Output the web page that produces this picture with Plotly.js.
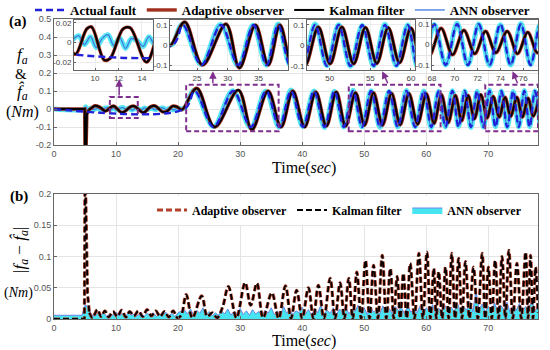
<!DOCTYPE html>
<html><head><meta charset="utf-8">
<script src="https://cdn.plot.ly/plotly-3.0.1.min.js"></script>
<style>body{margin:0;background:#fff}#chart{width:550px;height:350px}</style>
</head><body><div id="chart"></div><script>
// ---------- DATA ----------
// (a) Actual fault: zero, then chirp-like sinusoid; listed as extrema (time, value)
const actualT = [0, 21.0, 22.7, 25.7, 28.9, 31.7, 34.2, 36.3, 38.2, 40.1, 41.9, 43.6, 45.2, 46.7, 48.2, 49.65, 51.1, 52.55, 54.0, 55.4, 56.8, 58.2, 59.6, 60.8, 62.0, 63.1, 64.2, 65.2, 66.2, 67.2, 68.2, 69.2, 70.2, 71.15, 72.1, 73.05, 74.0, 74.9, 75.8, 76.65, 77.5, 78.35];
const actualV = [0, 0, 0.1, -0.1, 0.1, -0.1, 0.1, -0.1, 0.1, -0.1, 0.1, -0.1, 0.1, -0.1, 0.1, -0.1, 0.1, -0.1, 0.1, -0.1, 0.1, -0.1, 0.1, -0.1, 0.1, -0.1, 0.1, -0.1, 0.1, -0.1, 0.1, -0.1, 0.1, -0.1, 0.1, -0.1, 0.1, -0.1, 0.1, -0.1, 0.1, -0.1];

// (a) Kalman filter: start-up spike, then oscillation
const kalmanSpikeT = [0, 4.95, 5.0, 5.12, 5.3, 5.6];
const kalmanSpikeV = [0, 0, -0.3, -0.3, -0.03, -0.005];
const kalmanT = [5.6, 6.0, 6.6, 7.3, 8.3, 9.3, 9.7, 10.8, 11.3, 12.4, 13.0, 14.4, 15.6, 16.3, 17.5, 18.2, 19.1, 19.8, 20.6, 23.0, 25.9, 29.7, 31.9, 34.5, 36.6, 38.5, 40.4, 42.2, 43.9, 45.5, 47.0, 48.6, 50.05, 51.5, 52.95, 54.4, 55.8, 57.2, 58.6, 60.0, 61.25, 62.45, 63.55, 64.7, 65.7, 66.75, 67.75, 68.8, 69.8, 70.8, 71.75, 72.7, 73.6, 74.6, 75.5, 76.4, 77.25, 78.1];
const kalmanV = [-0.005, 0.004, 0.018, 0.012, -0.012, 0.014, 0.016, -0.018, -0.016, 0.014, 0.015, -0.02, 0.014, 0.017, -0.016, -0.013, 0.016, 0.013, -0.004, 0.115, -0.1, 0.105, -0.115, 0.1, -0.1, 0.1, -0.1, 0.095, -0.095, 0.095, -0.095, 0.09, -0.09, 0.09, -0.09, 0.088, -0.088, 0.087, -0.085, 0.085, -0.08, 0.08, -0.075, 0.075, -0.065, 0.075, -0.055, 0.08, -0.05, 0.07, -0.045, 0.065, -0.04, 0.065, -0.045, 0.06, -0.04, 0.055];

// (a) Adaptive observer: drawn under the Kalman curve, indistinguishable from it
const adaptiveSpikeT = [0, 4.95, 5.0, 5.12, 5.3, 5.6];
const adaptiveSpikeV = [0, 0, -0.3, -0.3, -0.03, -0.005];
const adaptiveT = kalmanT;
const adaptiveV = kalmanV;

// (a) ANN observer: tracks the actual fault with small noise
const annT = [0, 4.9, 5.1, 5.4, 5.9, 6.5, 7.0, 7.6, 8.1, 8.6, 9.1, 9.6, 10.1, 10.6, 11.1, 11.6, 12.1, 12.6, 13.1, 13.6, 14.1, 14.6, 15.1, 15.7, 16.3, 16.9, 17.5, 18.1, 18.7, 19.3, 19.9, 20.5, 21.0,
  22.6, 25.7, 28.8, 31.7, 34.1, 36.3, 38.2, 40.1, 41.9, 43.6, 45.2, 46.7, 48.2, 49.65, 51.1, 52.55, 54.0, 55.4, 56.8, 58.2, 59.6, 60.8, 62.0, 63.1, 64.2, 65.2, 66.2, 67.2, 68.2, 69.2, 70.2, 71.15, 72.1, 73.05, 74.0, 74.9, 75.8, 76.65, 77.5, 78.35];
const annV = [0, 0, 0.012, -0.006, 0.004, -0.003, 0.005, -0.004, 0.003, 0.007, -0.002, 0.006, -0.005, 0.004, 0.008, -0.003, 0.005, -0.006, 0.004, 0.002, -0.004, 0.006, -0.002, 0.005, -0.004, 0.003, 0.006, -0.003, 0.004, -0.005, 0.003, 0.002, 0.003,
  0.104, -0.098, 0.102, -0.104, 0.099, -0.101, 0.105, -0.097, 0.1, -0.103, 0.098, -0.1, 0.104, -0.099, 0.101, -0.102, 0.097, -0.1, 0.103, -0.098, 0.1, -0.104, 0.099, -0.1, 0.102, -0.097, 0.1, -0.103, 0.098, -0.1, 0.104, -0.099, 0.1, -0.102, 0.097, -0.1, 0.103, -0.098, 0.1, -0.101];

// (b) |error| of Kalman filter (adaptive observer overlaps it)
const kErrSpikeT = [0, 4.9, 5.0, 5.1, 5.4, 5.7];
const kErrSpikeV = [0, 0, 0.26, 0.2, 0.041, 0.01];
const kErrT = [5.7, 6.2, 7.0, 7.6, 8.2, 8.8, 9.5, 10.2, 10.9, 11.6, 12.2, 12.9, 13.6, 14.3, 15.0, 15.7, 16.4, 17.1, 17.8, 18.5, 19.2, 19.9, 20.5, 21.3, 22.3, 23.8, 24.7, 25.5, 26.3, 27.2, 28.1, 29.4, 30.8, 31.7, 32.7, 33.7, 35.1, 36.2, 37.3, 38.2, 39.1, 40.0, 41.0, 41.8, 42.6, 43.5, 44.5, 45.3, 46.1, 46.8, 47.5, 48.15, 48.8, 49.5, 50.2, 50.85, 51.5, 52.2, 52.9, 53.55, 54.2, 54.75, 55.3, 55.8, 56.3, 56.85, 57.4, 58.1, 58.8, 59.45, 60.1, 60.65, 61.2, 61.6, 62.0, 62.55, 63.1, 63.6, 64.1, 64.65, 65.2, 65.75, 66.3, 66.95, 67.6, 68.3, 69.0, 69.5, 70.0, 70.55, 71.1, 71.65, 72.2, 72.75, 73.3, 73.95, 74.6, 75.3, 76.0, 76.4, 76.8, 77.2, 77.6, 78.0];
const kErrV = [0.01, 0.002, 0.015, 0.004, 0.013, 0.003, 0.012, 0.004, 0.014, 0.003, 0.012, 0.005, 0.013, 0.004, 0.015, 0.005, 0.013, 0.004, 0.012, 0.003, 0.013, 0.002, 0.006, 0.039, 0.002, 0.037, 0.004, 0.01, 0.002, 0.02, 0.052, 0.002, 0.058, 0.022, 0.057, 0.002, 0.042, 0.001, 0.053, 0.001, 0.046, 0.001, 0.05, 0.001, 0.054, 0.001, 0.065, 0.001, 0.058, 0.001, 0.065, 0.001, 0.075, 0.001, 0.094, 0.001, 0.086, 0.001, 0.102, 0.001, 0.081, 0.001, 0.068, 0.001, 0.073, 0.001, 0.089, 0.001, 0.105, 0.001, 0.107, 0.001, 0.081, 0.001, 0.076, 0.001, 0.083, 0.001, 0.105, 0.001, 0.097, 0.001, 0.092, 0.001, 0.083, 0.001, 0.105, 0.001, 0.083, 0.001, 0.094, 0.001, 0.1, 0.001, 0.11, 0.001, 0.089, 0.001, 0.107, 0.001, 0.102, 0.001, 0.083, 0.01];
const aErrSpikeT = kErrSpikeT, aErrSpikeV = kErrSpikeV;
const aErrT = kErrT, aErrV = kErrV;

// (b) |error| of ANN observer
const annErrT = [0,0.5,1,1.5,2,2.5,3,3.5,4,4.5,5,5.5,6,6.5,7,7.5,8,8.5,9,9.5,10,10.5,11,11.5,12,12.5,13,13.5,14,14.5,15,15.5,16,16.5,17,17.5,18,18.5,19,19.5,20,20.5,21,21.5,22,22.5,23,23.5,24,24.5,25,25.5,26,26.5,27,27.5,28,28.5,29,29.5,30,30.5,31,31.5,32,32.5,33,33.5,34,34.5,35,35.5,36,36.5,37,37.5,38,38.5,39,39.5,40,40.5,41,41.5,42,42.5,43,43.5,44,44.5,45,45.5,46,46.5,47,47.5,48,48.5,49,49.5,50,50.5,51,51.5,52,52.5,53,53.5,54,54.5,55,55.5,56,56.5,57,57.5,58,58.5,59,59.5,60,60.5,61,61.5,62,62.5,63,63.5,64,64.5,65,65.5,66,66.5,67,67.5,68,68.5,69,69.5,70,70.5,71,71.5,72,72.5,73,73.5,74,74.5,75,75.5,76,76.5,77,77.5,78];
const annErrV = [0.006,0.006,0.006,0.006,0.006,0.006,0.006,0.006,0.006,0.006,
  0.022,0.02,0.008,0.004,0.009,0.005,0.01,0.004,0.008,0.006,0.011,0.005,0.009,0.004,0.01,0.006,0.008,0.005,0.011,0.004,0.009,0.006,0.01,0.004,0.008,0.006,0.011,0.005,0.009,0.004,0.01,
  0.012,0.015,0.008,0.016,0.006,0.014,0.009,0.018,0.007,0.012,0.005,0.01,0.006,0.013,0.008,0.016,0.006,0.012,0.009,0.017,
  0.007,0.013,0.006,0.015,0.008,0.012,0.005,0.014,0.009,0.018,0.007,0.013,0.006,0.02,0.009,0.016,0.007,0.013,0.01,0.019,
  0.008,0.015,0.006,0.017,0.01,0.022,0.008,0.014,0.009,0.018,0.007,0.016,0.011,0.02,0.008,0.015,0.012,0.022,0.009,0.018,
  0.007,0.02,0.011,0.016,0.008,0.021,0.012,0.017,0.009,0.02,0.013,0.018,0.008,0.022,0.011,0.016,0.01,0.021,0.008,0.018,
  0.012,0.023,0.009,0.017,0.013,0.022,0.01,0.019,0.012,0.026,0.011,0.02,0.014,0.028,0.012,0.045,0.015,0.024,0.011,0.02,
  0.014,0.026,0.012,0.022,0.015,0.027,0.011,0.021,0.014,0.025,0.012,0.02,0.016,0.03,0.013,0.02];

// ticks
const xTicksMain = [0, 10, 20, 30, 40, 50, 60, 70];
const yTicksA = [-0.2, -0.1, 0, 0.1, 0.2, 0.3, 0.4, 0.5];
const yTickTextA = ['-0.2', '-0.1', '0', '0.1', '0.2', '0.3', '0.4', '0.5'];
const yTicksB = [0, 0.05, 0.1, 0.15, 0.2];
const yTickTextB = ['0', '0.05', '0.1', '0.15', '0.2'];
const in1X = [10, 12, 14], in1Y = [-0.02, 0, 0.02], in1YText = ['-0.02', '0', '0.02'];
const in2X = [25, 30, 35], in3X = [50, 55, 60], in4X = [68, 70, 72, 74, 76];
const inY = [-0.1, 0, 0.1], inYText = ['-0.1', '0', '0.1'];

// ---------- LAYOUT HELPERS ----------
const W = 550, H = 350;
const px = v => v / W;
const py = v => 1 - v / H;

const cActual = '#2121d9', cAdapt = '#a3301f', cKal = '#000000', cAnnC = '#55e6f2', cAnnB = '#3f78e0';
const purple = '#7e2f8e';

const traces = [];
const panelA = [['x', 'y'], ['x3', 'y3'], ['x4', 'y4'], ['x5', 'y5'], ['x6', 'y6']];
panelA.forEach(([xa, ya], i) => {
  const first = i === 0;
  const base = {xaxis: xa, yaxis: ya, mode: 'lines', hoverinfo: 'skip', legend: 'legend'};
  traces.push({...base, x: annT, y: annV, line: {color: cAnnC, width: 5, shape: 'spline'}, showlegend: false});
  traces.push({...base, x: annT, y: annV, line: {color: cAnnB, width: 1.3, shape: 'spline'}, name: 'ANN observer', legendrank: 4, showlegend: first, legendgroup: 'ann'});
  traces.push({...base, x: adaptiveSpikeT, y: adaptiveSpikeV, line: {color: cAdapt, width: 3.4}, showlegend: false});
  traces.push({...base, x: adaptiveT, y: adaptiveV, line: {color: cAdapt, width: 3.4, shape: 'spline'}, name: 'Adaptive observer', legendrank: 2, showlegend: first});
  traces.push({...base, x: kalmanSpikeT, y: kalmanSpikeV, line: {color: cKal, width: 2}, showlegend: false});
  traces.push({...base, x: kalmanT, y: kalmanV, line: {color: cKal, width: 2, shape: 'spline'}, name: 'Kalman filter', legendrank: 3, showlegend: first});
  traces.push({...base, x: actualT, y: actualV, line: {color: cActual, width: 2.4, dash: '7px,4px', shape: 'spline'}, name: 'Actual fault', legendrank: 1, showlegend: first});
});

// panel (b)
const bBase = {xaxis: 'x2', yaxis: 'y2', mode: 'lines', hoverinfo: 'skip', legend: 'legend2'};
const dashB = '6px,3px';
traces.push({...bBase, x: annErrT, y: annErrV, fill: 'tozeroy', fillcolor: 'rgba(60,228,240,0.95)', line: {color: '#6a86ea', width: 1}, name: 'ANN observer', legendrank: 3});
traces.push({...bBase, x: aErrSpikeT, y: aErrSpikeV, line: {color: '#b5402a', width: 3.2, dash: dashB}, showlegend: false});
traces.push({...bBase, x: aErrT, y: aErrV, line: {color: '#b5402a', width: 3.2, dash: dashB, shape: 'spline'}, name: 'Adaptive observer', legendrank: 1});
traces.push({...bBase, x: kErrSpikeT, y: kErrSpikeV, line: {color: '#000', width: 1.8, dash: dashB}, showlegend: false});
traces.push({...bBase, x: kErrT, y: kErrV, line: {color: '#000', width: 1.8, dash: dashB, shape: 'spline'}, name: 'Kalman filter', legendrank: 2});

const axBase = {
  showline: true, linecolor: '#666', linewidth: 1, mirror: true,
  ticks: 'inside', ticklen: 3, tickcolor: '#666',
  showgrid: true, gridcolor: '#e4e4e4', gridwidth: 1, zeroline: false,
  tickfont: {family: 'Liberation Sans, Arial, sans-serif', size: 9, color: '#555'},
  fixedrange: true
};
const inBase = {...axBase, gridcolor: '#ececec', tickfont: {family: 'Liberation Sans, Arial, sans-serif', size: 8, color: '#444'}, ticklen: 2};

const serif = 'Liberation Serif, Times New Roman, serif';
const txt = (x, y, text, size, extra) => Object.assign({xref: 'paper', yref: 'paper', x: px(x), y: py(y), xanchor: 'center', yanchor: 'middle', text: text, showarrow: false, font: {family: serif, size: size, color: '#000'}}, extra || {});
const arrow = (x, y, ax, ay) => ({xref: 'x', yref: 'y', axref: 'x', ayref: 'y', x: x, y: y, ax: ax, ay: ay, showarrow: true, arrowhead: 2, arrowsize: 1, arrowwidth: 1.5, arrowcolor: purple, text: ''});

const layout = {
  width: W, height: H, autosize: false,
  margin: {l: 0, r: 0, t: 0, b: 0, autoexpand: false},
  paper_bgcolor: '#fff', plot_bgcolor: '#fff',
  showlegend: true,
  xaxis: {...axBase, domain: [px(54), px(538)], range: [0, 78], tickvals: xTicksMain, anchor: 'y'},
  yaxis: {...axBase, domain: [py(145), py(19)], range: [-0.2, 0.5], tickvals: yTicksA, ticktext: yTickTextA, anchor: 'x'},
  xaxis2: {...axBase, domain: [px(54), px(538)], range: [0, 78], tickvals: xTicksMain, anchor: 'y2'},
  yaxis2: {...axBase, domain: [py(319), py(194)], range: [0, 0.2], tickvals: yTicksB, ticktext: yTickTextB, anchor: 'x2'},
  xaxis3: {...inBase, domain: [px(74), px(153)], range: [8.2, 14.95], tickvals: in1X, anchor: 'y3'},
  yaxis3: {...inBase, domain: [py(70), py(20)], range: [-0.028, 0.023], tickvals: in1Y, ticktext: in1YText, anchor: 'x3'},
  xaxis4: {...inBase, domain: [px(170), px(288)], range: [20.6, 39.8], tickvals: in2X, anchor: 'y4'},
  yaxis4: {...inBase, domain: [py(70), py(20)], range: [-0.125, 0.125], tickvals: inY, ticktext: inYText, anchor: 'x4'},
  xaxis5: {...inBase, domain: [px(307), px(415)], range: [47.2, 60.5], tickvals: in3X, anchor: 'y5'},
  yaxis5: {...inBase, domain: [py(70), py(20)], range: [-0.12, 0.124], tickvals: inY, ticktext: inYText, anchor: 'x5'},
  xaxis6: {...inBase, domain: [px(432), px(538)], range: [68, 77.3], tickvals: in4X, anchor: 'y6'},
  yaxis6: {...inBase, domain: [py(70), py(20)], range: [-0.124, 0.12], tickvals: inY, ticktext: inYText, anchor: 'x6'},
  legend: {
    orientation: 'h', x: px(30), y: py(10), xanchor: 'left', yanchor: 'middle',
    bgcolor: 'rgba(255,255,255,0)', font: {family: serif, size: 13, color: '#000', weight: 'bold'},
    traceorder: 'normal', itemwidth: 30
  },
  legend2: {
    orientation: 'h', x: px(152), y: py(210), xanchor: 'left', yanchor: 'middle',
    bgcolor: '#fff', font: {family: serif, size: 12, color: '#000', weight: 'bold'},
    traceorder: 'normal', itemwidth: 30
  },
  shapes: [
    {type: 'rect', xref: 'x', yref: 'y', x0: 9.0, x1: 13.5, y0: -0.05, y1: 0.067, line: {color: purple, width: 2, dash: '5px,3px'}},
    {type: 'rect', xref: 'x', yref: 'y', x0: 21.3, x1: 36.2, y0: -0.124, y1: 0.135, line: {color: purple, width: 2, dash: '5px,3px'}},
    {type: 'rect', xref: 'x', yref: 'y', x0: 47.5, x1: 62.3, y0: -0.124, y1: 0.135, line: {color: purple, width: 2, dash: '5px,3px'}},
    {type: 'rect', xref: 'x', yref: 'y', x0: 69.5, x1: 78.0, y0: -0.124, y1: 0.135, line: {color: purple, width: 2, dash: '5px,3px'}}
  ],
  annotations: [
    arrow(10.5, 0.165, 10.5, 0.067),
    arrow(25.6, 0.21, 25.6, 0.135),
    arrow(52.9, 0.21, 53.9, 0.135),
    arrow(73.9, 0.21, 74.8, 0.135),
    txt(18, 22, '<b>(a)</b>', 15),
    txt(19, 196, '<b>(b)</b>', 15),
    txt(22, 56, '<i>f<sub>a</sub></i>', 17),
    txt(21, 74, '&amp;', 15),
    txt(22, 92, '<i>f\u0302<sub>a</sub></i>', 17),
    txt(22, 112, '(<i>Nm</i>)', 16),
    txt(20, 250, '|<i>f<sub>a</sub></i> \u2212 <i>f\u0302<sub>a</sub></i>|', 17, {textangle: -90}),
    txt(18, 293, '(<i>Nm</i>)', 14),
    txt(304, 168, 'Time(<i>sec</i>)', 16),
    txt(304, 341, 'Time(<i>sec</i>)', 16)
  ]
};

Plotly.newPlot('chart', traces, layout, {displayModeBar: false, staticPlot: true});
</script></body></html>
